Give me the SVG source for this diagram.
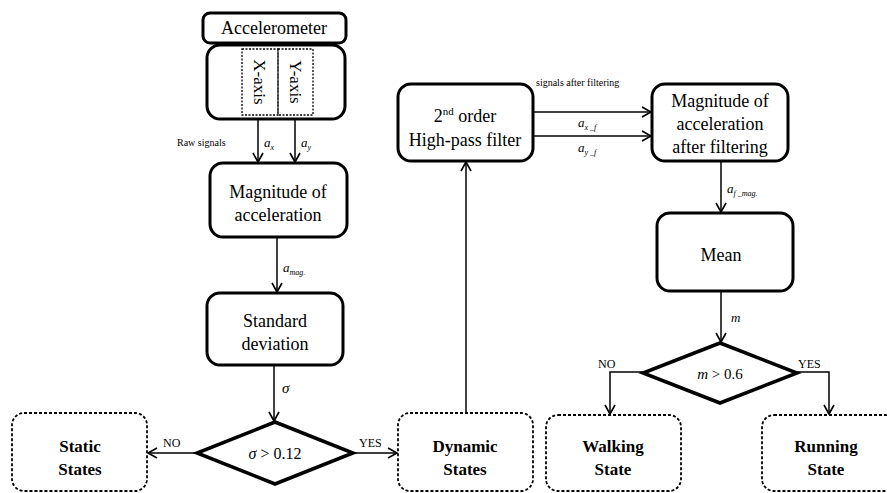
<svg xmlns="http://www.w3.org/2000/svg" width="887" height="493" viewBox="0 0 887 493">
<defs>
<marker id="ah" markerWidth="12" markerHeight="12" refX="10" refY="6" orient="auto" markerUnits="userSpaceOnUse">
<path d="M1,1 L10,6 L1,11" fill="none" stroke="#000" stroke-width="1.6"/>
</marker>
</defs>
<style>
.box{fill:#fff;stroke:#000;stroke-width:3}
.dbox{fill:#fff;stroke:#000;stroke-width:1.8;stroke-dasharray:3,2}
.dot{fill:none;stroke:#000;stroke-width:1.3;stroke-dasharray:2,1.5}
.dia{fill:#fff;stroke:#000;stroke-width:3.5;stroke-linejoin:miter}
.arr{fill:none;stroke:#000;stroke-width:1.5;marker-end:url(#ah)}
text{font-family:'Times New Roman','Liberation Serif','DejaVu Serif',serif;fill:#000}
tspan{fill:#000}
.t{font-size:18px;text-anchor:middle}
.b{font-size:17px;font-weight:bold;text-anchor:middle}
.s{font-size:10px}
.m{font-size:13px;font-style:italic}
.sub{font-size:8px;font-style:italic}
</style>
<g id="connectors">
<line class="arr" x1="258" y1="118" x2="258" y2="162"/>
<line class="arr" x1="295" y1="118" x2="295" y2="162"/>
<line class="arr" x1="277" y1="237" x2="277" y2="292"/>
<line class="arr" x1="274" y1="365" x2="274" y2="421"/>
<line class="arr" x1="197" y1="453" x2="148" y2="453"/>
<line class="arr" x1="353" y1="453" x2="397" y2="453"/>
<line class="arr" x1="466" y1="413" x2="466" y2="162"/>
<line class="arr" x1="533" y1="112" x2="651" y2="112"/>
<line class="arr" x1="533" y1="136" x2="651" y2="136"/>
<line class="arr" x1="721" y1="161" x2="721" y2="212"/>
<line class="arr" x1="721" y1="291" x2="721" y2="342"/>
<polyline class="arr" points="643,372 610,372 610,414"/>
<polyline class="arr" points="797,372 829,372 829,414"/>
<text class="s" x="177" y="146">Raw signals</text>
<text class="m" x="264" y="147">a<tspan class="sub" dy="3">x</tspan></text>
<text class="m" x="301" y="147">a<tspan class="sub" dy="3">y</tspan></text>
<text class="m" x="283" y="272">a<tspan class="sub" dy="3">mag.</tspan></text>
<text class="m" x="282" y="393" style="font-size:15px">σ</text>
<text class="s" x="163" y="447" style="font-size:12px">NO</text>
<text class="s" x="359" y="447" style="font-size:12px">YES</text>
<text class="s" x="536" y="86">signals after filtering</text>
<text class="m" x="578" y="127">a<tspan class="sub" dy="3">x _f</tspan></text>
<text class="m" x="578" y="152">a<tspan class="sub" dy="3">y _f</tspan></text>
<text class="m" x="727" y="193">a<tspan class="sub" dy="3">f _mag.</tspan></text>
<text class="m" x="731" y="322">m</text>
<text class="s" x="598" y="368" style="font-size:12px">NO</text>
<text class="s" x="798" y="368" style="font-size:12px">YES</text>
</g>
<g id="accelerometer">
<rect class="box" x="203" y="13" width="143" height="30" rx="7"/>
<text class="t" x="274" y="34" style="font-size:18px">Accelerometer</text>
</g>
<g id="axes">
<rect class="box" x="207" y="45" width="138" height="74" rx="13"/>
<rect class="dot" x="242" y="49" width="36" height="66"/>
<rect class="dot" x="278" y="49" width="35" height="66"/>
<text class="t" transform="translate(254,82) rotate(90)" style="font-size:17px">X-axis</text>
<text class="t" transform="translate(290,82) rotate(90)" style="font-size:17px">Y-axis</text>
</g>
<g id="magnitude">
<rect class="box" x="210" y="163" width="137" height="74" rx="13"/>
<text class="t" x="278" y="198">Magnitude of</text>
<text class="t" x="278" y="221">acceleration</text>
</g>
<g id="stddev">
<rect class="box" x="207" y="293" width="136" height="72" rx="13"/>
<text class="t" x="275" y="327">Standard</text>
<text class="t" x="275" y="350">deviation</text>
</g>
<g id="decision1">
<polygon class="dia" points="275,422 353,453 275,484 197,453"/>
<text class="t" x="275" y="459" style="font-size:16px"><tspan font-style="italic">σ</tspan> &gt; 0.12</text>
</g>
<g id="static">
<rect class="dbox" x="12" y="413" width="135" height="78" rx="12"/>
<text class="b" x="80" y="452">Static</text>
<text class="b" x="80" y="475">States</text>
</g>
<g id="dynamic">
<rect class="dbox" x="398" y="413" width="135" height="78" rx="12"/>
<text class="b" x="465" y="452">Dynamic</text>
<text class="b" x="465" y="475">States</text>
</g>
<g id="highpass">
<rect class="box" x="398" y="84" width="135" height="77" rx="13"/>
<text class="t" x="465" y="122">2<tspan font-size="11" dy="-7">nd</tspan><tspan dy="7"> order</tspan></text>
<text class="t" x="465" y="146">High-pass filter</text>
</g>
<g id="magfilt">
<rect class="box" x="652" y="84" width="136" height="77" rx="13"/>
<text class="t" x="720" y="107">Magnitude of</text>
<text class="t" x="720" y="130">acceleration</text>
<text class="t" x="720" y="153">after filtering</text>
</g>
<g id="mean">
<rect class="box" x="657" y="213" width="136" height="78" rx="13"/>
<text class="t" x="721" y="261">Mean</text>
</g>
<g id="decision2">
<polygon class="dia" points="720,343 797,373 720,403 643,373"/>
<text class="t" x="720" y="379" style="font-size:15px"><tspan font-style="italic">m</tspan> &gt; 0.6</text>
</g>
<g id="walking">
<rect class="dbox" x="546" y="415" width="135" height="76" rx="12"/>
<text class="b" x="613" y="452">Walking</text>
<text class="b" x="613" y="475">State</text>
</g>
<g id="running">
<rect class="dbox" x="762" y="415" width="135" height="76" rx="12"/>
<text class="b" x="826" y="452">Running</text>
<text class="b" x="826" y="475">State</text>
</g>
</svg>
